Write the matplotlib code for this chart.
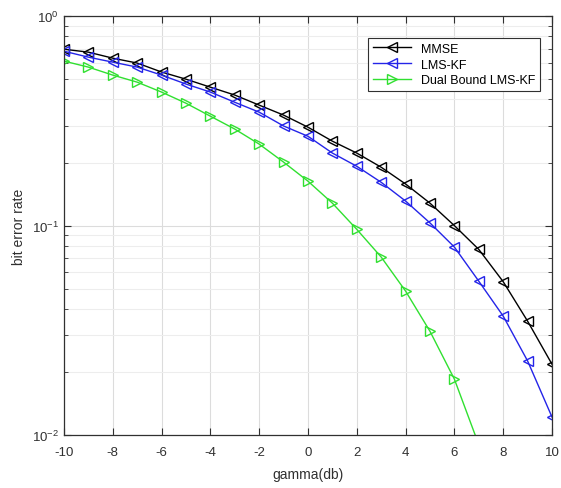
import matplotlib
matplotlib.use("Agg")
import matplotlib.pyplot as plt
from matplotlib.ticker import LogLocator, NullFormatter, FixedLocator

plt.rcParams['font.family'] = ['Liberation Sans', 'DejaVu Sans']
plt.rcParams['axes.unicode_minus'] = False

gamma = list(range(-10, 11))
mmse = [0.695, 0.673, 0.630, 0.597, 0.541, 0.500, 0.458, 0.420, 0.376, 0.337,
        0.295, 0.253, 0.222, 0.190, 0.158, 0.128, 0.100, 0.077, 0.054, 0.035, 0.0218]
lms_kf = [0.680, 0.637, 0.603, 0.571, 0.523, 0.474, 0.434, 0.388, 0.348, 0.299,
          0.267, 0.222, 0.192, 0.161, 0.131, 0.103, 0.079, 0.0543, 0.037, 0.0226, 0.0122]
gamma_dual = list(range(-10, 8))
dual = [0.610, 0.571, 0.523, 0.484, 0.434, 0.384, 0.333, 0.289, 0.245, 0.201,
        0.163, 0.128, 0.096, 0.0708, 0.0487, 0.0313, 0.0185, 0.009]

fig = plt.figure(figsize=(5.61, 4.89), dpi=100)
ax = fig.add_axes([0.114, 0.108, 0.870, 0.857])

tc = '#303030'
ax.semilogy(gamma, mmse, color='black', marker='<', mfc='none', ms=6.5, lw=1.0, label='MMSE')
ax.semilogy(gamma, lms_kf, color='#2424e8', marker='<', mfc='none', ms=6.5, lw=1.0, label='LMS-KF')
ax.semilogy(gamma_dual, dual, color='#30e030', marker='>', mfc='none', ms=6.5, lw=1.0, label='Dual Bound LMS-KF')

ax.set_xlim(-10, 10)
ax.set_ylim(1e-2, 1e0)
ax.set_xticks(range(-10, 11, 2))
ax.yaxis.set_major_locator(FixedLocator([1e-2, 1e-1, 1e0]))
ax.yaxis.set_minor_locator(LogLocator(base=10, subs=range(2, 10)))
ax.yaxis.set_minor_formatter(NullFormatter())

ax.grid(True, which='major', color='#dcdcdc', lw=0.8)
ax.grid(True, which='minor', axis='y', color='#ededed', lw=0.8)
ax.set_axisbelow(True)

ax.tick_params(which='both', direction='in', top=True, right=True, colors=tc, labelcolor=tc, labelsize=9.5)
ax.tick_params(which='major', length=5)
ax.tick_params(which='minor', length=3)
ax.tick_params(axis='x', pad=8)
for s in ax.spines.values():
    s.set_color(tc)
    s.set_linewidth(0.9)

ax.set_xlabel('gamma(db)', color=tc, fontsize=10, labelpad=6)
ax.set_ylabel('bit error rate', color=tc, fontsize=10, labelpad=4)

leg = ax.legend(loc='upper right', bbox_to_anchor=(0.988, 0.963), fontsize=9, fancybox=False,
                framealpha=1, edgecolor=tc, borderpad=0.4, handlelength=3.0, labelspacing=0.3)
leg.get_frame().set_linewidth(0.8)

fig.savefig('out.png', dpi=100)
